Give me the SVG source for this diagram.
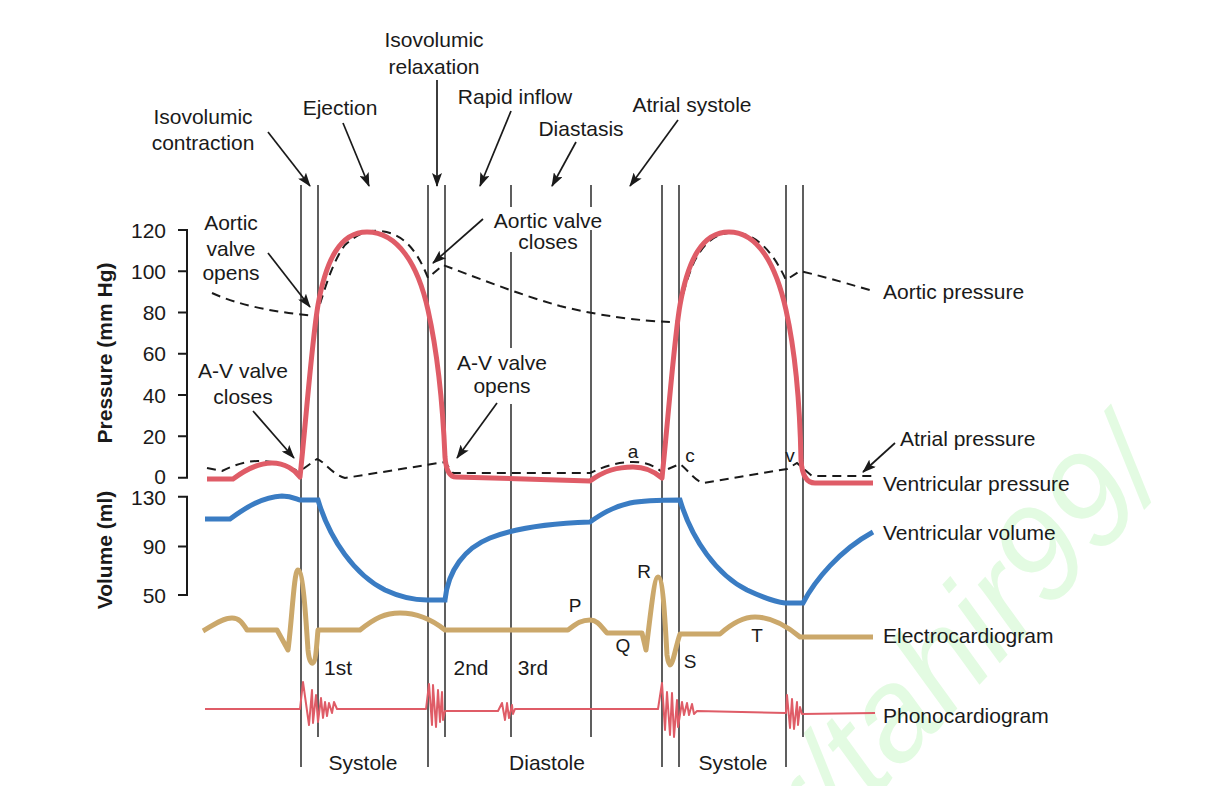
<svg xmlns="http://www.w3.org/2000/svg" width="1210" height="786" viewBox="0 0 1210 786">
<defs>
<style>
text{font-family:"Liberation Sans",Arial,sans-serif;font-size:21px;fill:#1a1a1a}
.m{text-anchor:middle}
.e{text-anchor:end}
.b{font-weight:bold}
.sm{font-size:19px}
.vl{stroke:#1a1a1a;stroke-width:1.4;fill:none}
.ax{stroke:#1a1a1a;stroke-width:2;fill:none}
.ar{stroke:#1a1a1a;stroke-width:1.7;fill:none;marker-end:url(#ah)}
.dash{stroke:#1a1a1a;stroke-width:2;fill:none;stroke-dasharray:9,6}
.vp{stroke:#df5c67;stroke-width:5;fill:none;stroke-linejoin:round}
.vv{stroke:#3a7cc3;stroke-width:5;fill:none}
.ecg{stroke:#cba86b;stroke-width:5;fill:none;stroke-linejoin:round}
.pcg{stroke:#df5c67;stroke-width:2;fill:none;stroke-linejoin:round}
</style>
<marker id="ah" viewBox="0 0 14 10" refX="13" refY="5" markerWidth="14" markerHeight="10" markerUnits="userSpaceOnUse" orient="auto">
<path d="M0,0 L14,5 L0,10 L3,5 z" fill="#1a1a1a"/>
</marker>
</defs>
<rect width="1210" height="786" fill="#fff"/>
<text transform="translate(818,858) rotate(-47)" style="font-size:132px;font-style:italic;fill:#e3fbe2">r/tahir99/</text>

<g id="phase-lines">
<line class="vl" x1="301" y1="185" x2="301" y2="767"/>
<line class="vl" x1="318" y1="185" x2="318" y2="737"/>
<line class="vl" x1="428" y1="185" x2="428" y2="767"/>
<line class="vl" x1="445" y1="185" x2="445" y2="737"/>
<line class="vl" x1="511" y1="185" x2="511" y2="737"/>
<line class="vl" x1="591" y1="185" x2="591" y2="737"/>
<line class="vl" x1="662" y1="185" x2="662" y2="767"/>
<line class="vl" x1="679" y1="185" x2="679" y2="767"/>
<line class="vl" x1="786" y1="185" x2="786" y2="767"/>
<line class="vl" x1="803" y1="185" x2="803" y2="737"/>
</g>

<g id="axes">
<path class="ax" d="M178,230 H187 V477.7 H178 M178,271.3 H187 M178,312.5 H187 M178,353.8 H187 M178,395 H187 M178,436.3 H187"/>
<path class="ax" d="M178,496.7 H187 V595 H178 M178,546.5 H187"/>
<text class="e" x="166" y="237.5">120</text>
<text class="e" x="166" y="278.8">100</text>
<text class="e" x="166" y="320">80</text>
<text class="e" x="166" y="361.3">60</text>
<text class="e" x="166" y="402.5">40</text>
<text class="e" x="166" y="443.8">20</text>
<text class="e" x="166" y="484">0</text>
<text class="e" x="166" y="505">130</text>
<text class="e" x="166" y="554">90</text>
<text class="e" x="166" y="602.5">50</text>
<text class="m b" transform="translate(112,353) rotate(-90)">Pressure (mm Hg)</text>
<text class="m b" transform="translate(112,550) rotate(-90)">Volume (ml)</text>
</g>

<g id="aortic-pressure">
<path class="dash" d="M212,293 C240,306 280,313 316,316 C322,300 330,265 345,245 C358,233 368,230 380,231 C400,233 415,245 428,278 L443,265 C470,275 520,295 560,306 C600,316 640,321 672,322 L678,321 C680,305 685,283 694,262 C704,243 714,235 728,233 C750,230 770,245 786,280 L800,271 C830,278 855,286 873,291"/>
</g>
<g id="atrial-pressure">
<path class="dash" d="M207,468 L222,471 C232,466 245,461 258,461 C275,461 287,464 297,471 M303,469 L317,459 C325,462 333,475 345,478 L445,462 L453,473 L590,473 C605,466 618,462 633,462 C645,462 653,465 662,472 M668,469 L680,464 C688,470 694,480 703,483 L787,469 L797,463 L812,476 L873,476"/>
</g>
<g id="ventricular-pressure">
<path class="vp" d="M207,479 L233,479 C245,470 258,463 272,463 C285,463 295,470 300,477 C306,420 312,340 318,305 C326,260 340,232 367,232 C398,232 418,265 428,310 C438,355 443,410 445,457 C446,470 449,477 456,477 L590,481 C605,470 618,467 633,467 C646,467 655,472 662,478 C668,420 674,340 680,305 C688,260 702,232 729,232 C758,232 776,265 786,310 C796,355 800,410 801,460 C802,475 806,483 815,483 L873,483"/>
</g>
<g id="ventricular-volume">
<path class="vv" d="M205,519 L230,519 C245,508 262,497 282,496 C292,496 296,499 300,500 L318,500 C330,540 355,575 385,590 C400,597 415,600 427,600 L445,600 C448,570 465,548 490,538 C520,526 560,523 590,522 C600,515 612,507 630,503 C645,500 660,500 680,500 C692,540 717,575 747,590 C762,597 775,602 785,603 L803,603 C815,580 840,550 873,532"/>
</g>
<g id="ecg">
<path class="ecg" d="M203,631 C212,626 222,618 232,618 C240,618 243,624 247,630 L277,630 L288,650 C292,620 294,570 298,570 C303,570 306,620 308,650 C309,660 311,664 313,663 C316,662 317,640 318,630 L360,630 C375,618 385,613 400,613 C420,613 435,622 445,630 L568,630 C575,625 580,620 590,620 C598,620 602,628 607,633 L642,633 L646,650 C650,620 654,577 658,577 C663,577 665,620 667,655 C668,662 669,665 670,665 C673,665 676,645 680,634 L720,634 C730,625 742,617 755,617 C772,617 788,627 800,637 L873,637"/>
</g>
<g id="phonocardiogram">
<path class="pcg" d="M205,709 L300,709 L303,682 L309,725 L312,690 L313,723 L316,695 L318,722 L321,698 L323,718 L325,702 L327,716 L329,703 L332,713 L334,702 L337,709 L426,709 L429,684 L432,725 L433,685 L436,727 L438,690 L440,722 L442,692 L443,720 L445,711 L498,711 L502,703 L505,720 L507,703 L509,718 L512,705 L513,714 L515,709 L658,709 L662,683 L665,730 L667,692 L670,735 L672,693 L674,737 L677,700 L678,727 L682,702 L684,715 L687,703 L689,715 L692,704 L694,714 L697,711 L786,713 L787,695 L790,728 L792,699 L794,729 L797,702 L798,725 L800,707 L802,714 L875,713"/>
</g>

<g id="label-bg">
<rect x="493" y="207" width="112" height="23" fill="#fff"/>
<rect x="493" y="230" width="88" height="22" fill="#fff"/>
<rect x="455" y="348" width="94" height="56" fill="#fff"/>
</g>

<g id="phase-labels">
<text class="m" x="434" y="47">Isovolumic</text>
<text class="m" x="434" y="74">relaxation</text>
<text class="m" x="203" y="124">Isovolumic</text>
<text class="m" x="203" y="150">contraction</text>
<text class="m" x="340" y="115">Ejection</text>
<text class="m" x="515" y="104">Rapid inflow</text>
<text class="m" x="581" y="136">Diastasis</text>
<text class="m" x="692" y="112">Atrial systole</text>
</g>

<g id="event-labels">
<text class="m" x="231" y="230">Aortic</text>
<text class="m" x="231" y="256">valve</text>
<text class="m" x="231" y="280">opens</text>
<text class="m" x="243" y="378">A-V valve</text>
<text class="m" x="243" y="404">closes</text>
<text class="m" x="548" y="228">Aortic valve</text>
<text class="m" x="548" y="249">closes</text>
<text class="m" x="502" y="370">A-V valve</text>
<text class="m" x="502" y="393">opens</text>
<text class="m sm" x="633" y="458">a</text>
<text class="m sm" x="690" y="462">c</text>
<text class="m sm" x="790" y="462">v</text>
<text class="m sm" x="575" y="612">P</text>
<text class="m sm" x="623" y="652">Q</text>
<text class="m sm" x="644" y="578">R</text>
<text class="m sm" x="690" y="668">S</text>
<text class="m sm" x="757" y="642">T</text>
<text class="m" x="338" y="675">1st</text>
<text class="m" x="471" y="675">2nd</text>
<text class="m" x="533" y="675">3rd</text>
<text class="m" x="363" y="770">Systole</text>
<text class="m" x="547" y="770">Diastole</text>
<text class="m" x="733" y="770">Systole</text>
</g>

<g id="curve-labels">
<text x="883" y="299">Aortic pressure</text>
<text x="900" y="446">Atrial pressure</text>
<text x="883" y="491">Ventricular pressure</text>
<text x="883" y="540">Ventricular volume</text>
<text x="883" y="643">Electrocardiogram</text>
<text x="883" y="723">Phonocardiogram</text>
</g>

<g id="connectors">
<line class="ar" x1="268" y1="132" x2="310" y2="186"/>
<line class="ar" x1="343" y1="123" x2="369" y2="186"/>
<line class="ar" x1="437" y1="80" x2="437" y2="186"/>
<line class="ar" x1="511" y1="111" x2="480" y2="186"/>
<line class="ar" x1="576" y1="142" x2="552" y2="186"/>
<line class="ar" x1="678" y1="120" x2="630" y2="186"/>
<line class="ar" x1="268" y1="253" x2="310" y2="307"/>
<line class="ar" x1="253" y1="411" x2="294" y2="458"/>
<line class="ar" x1="483" y1="219" x2="433" y2="263"/>
<line class="ar" x1="497" y1="403" x2="457" y2="458"/>
<line class="ar" x1="895" y1="443" x2="863" y2="472"/>
</g>
</svg>
